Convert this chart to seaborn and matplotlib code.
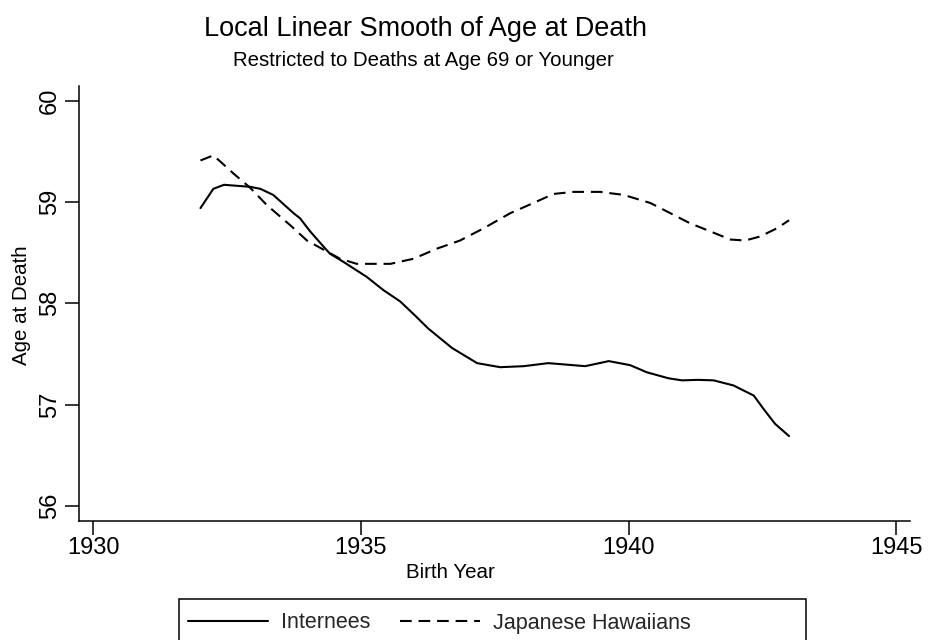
import pandas as pd
import seaborn as sns
import matplotlib
matplotlib.use('Agg')
import matplotlib.pyplot as plt
from matplotlib.patches import Rectangle

# values
intern_year = [1932.0, 1932.24, 1932.44, 1932.93, 1933.12, 1933.36, 1933.74, 1933.86, 1934.05,
               1934.30, 1934.42, 1934.67, 1935.11, 1935.42, 1935.73, 1936.01, 1936.26, 1936.70,
               1937.17, 1937.60, 1938.04, 1938.50, 1939.19, 1939.63, 1940.03, 1940.34, 1940.75,
               1941.00, 1941.30, 1941.59, 1941.96, 1942.34, 1942.52, 1942.74, 1943.0]
intern_age = [58.94, 59.13, 59.17, 59.15, 59.13, 59.07, 58.89, 58.84, 58.71,
              58.56, 58.49, 58.41, 58.26, 58.13, 58.02, 57.88, 57.75, 57.56,
              57.41, 57.37, 57.38, 57.41, 57.38, 57.43, 57.39, 57.32, 57.26,
              57.24, 57.245, 57.24, 57.19, 57.09, 56.96, 56.81, 56.69]

haw_year = [1932.0, 1932.24, 1932.37, 1932.62, 1932.93, 1933.24, 1933.68, 1933.99, 1934.30,
            1934.61, 1934.92, 1935.17, 1935.55, 1935.98, 1936.42, 1936.85, 1937.29, 1937.79,
            1938.22, 1938.60, 1938.97, 1939.47, 1939.91, 1940.41, 1940.78, 1941.15, 1941.53,
            1941.90, 1942.18, 1942.46, 1942.77, 1943.0]
haw_age = [59.41, 59.46, 59.40, 59.28, 59.14, 58.97, 58.77, 58.62, 58.53,
           58.44, 58.39, 58.39, 58.39, 58.44, 58.54, 58.62, 58.74, 58.89,
           58.99, 59.08, 59.10, 59.10, 59.07, 58.99, 58.89, 58.79, 58.71,
           58.63, 58.62, 58.66, 58.74, 58.82]

x_ticks = [1930, 1935, 1940, 1945]
y_ticks = [56, 57, 58, 59, 60]

df_intern = pd.DataFrame({'year': intern_year, 'age': intern_age})
df_haw = pd.DataFrame({'year': haw_year, 'age': haw_age})

sns.set_theme(style='ticks')
plt.rcParams['font.family'] = ['Liberation Sans', 'DejaVu Sans']

fig = plt.figure(figsize=(9.29, 6.4), dpi=100)
ax = fig.add_axes([79 / 929, 1 - 520.7 / 640, (910 - 79) / 929, (520.7 - 86) / 640])

sns.lineplot(data=df_intern, x='year', y='age', color='black', linewidth=1.5,
             label='Internees', ax=ax)
sns.lineplot(data=df_haw, x='year', y='age', color='black', linewidth=1.5,
             label='Japanese Hawaiians', ax=ax)
ax.lines[1].set_dashes((5.6, 3.3))

ax.set_xlim(1929.73, 1945.26)
ax.set_ylim(55.855, 60.145)
ax.set_xticks(x_ticks)
ax.set_yticks(y_ticks)
ax.tick_params(axis='both', labelsize=17, length=10, width=1.1, color='black',
               labelcolor='black')
ax.tick_params(axis='x', pad=2)
ax.tick_params(axis='y', pad=3)
for lbl in ax.get_yticklabels():
    lbl.set_rotation(90)
    lbl.set_va('center')
sns.despine(ax=ax)
for s in ['left', 'bottom']:
    ax.spines[s].set_linewidth(1.1)
    ax.spines[s].set_color('black')

ax.set_xlabel('Birth Year', fontsize=14.8, color='black')
ax.xaxis.set_label_coords((450 - 79) / (910 - 79), -0.097)
ax.set_ylabel('Age at Death', fontsize=14.8, color='black')
ax.yaxis.set_label_coords((31 - 79) / (910 - 79), (520.7 - 305) / (520.7 - 86))

fig.text(426 / 929, 1 - 29 / 640, 'Local Linear Smooth of Age at Death',
         ha='center', va='center', fontsize=19.5, color='black')
fig.text(423 / 929, 1 - 60 / 640, 'Restricted to Deaths at Age 69 or Younger',
         ha='center', va='center', fontsize=14.7, color='black')

ax.get_legend().remove()
leg = fig.legend(handles=ax.lines[:2], labels=['Internees', 'Japanese Hawaiians'],
                 loc='center left', bbox_to_anchor=(188 / 929, 1 - 623 / 640),
                 ncol=2, fontsize=15.5, handlelength=3.7, frameon=False,
                 borderpad=0, borderaxespad=0, handletextpad=0.6, columnspacing=1.4)
fig.add_artist(Rectangle((179 / 929, 1 - 650 / 640), 627 / 929, 51 / 640,
                         transform=fig.transFigure, fill=False,
                         edgecolor='black', linewidth=1.1))

fig.savefig('out.png', dpi=100)
